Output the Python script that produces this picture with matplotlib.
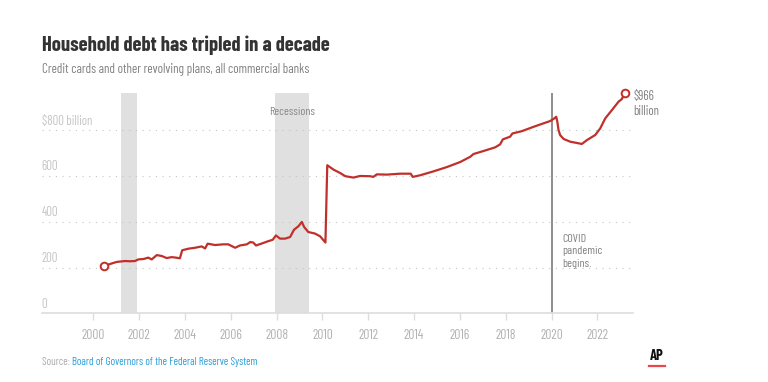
import matplotlib.pyplot as plt
from matplotlib import font_manager

# credit card / revolving debt, all commercial banks, billions of dollars
years = [
    2000.47, 2000.73, 2001.02, 2001.20, 2001.38, 2001.60, 2001.82, 2001.96,
    2002.20, 2002.40, 2002.55, 2002.77, 2002.99, 2003.20, 2003.42, 2003.60,
    2003.78, 2003.88, 2004.15, 2004.44, 2004.73, 2004.88, 2004.99, 2005.31,
    2005.67, 2005.89, 2006.05, 2006.19, 2006.40, 2006.70, 2006.85, 2006.98,
    2007.10, 2007.42, 2007.64, 2007.83, 2007.97, 2008.15, 2008.37, 2008.59,
    2008.76, 2008.95, 2009.10, 2009.20, 2009.38, 2009.68, 2009.90, 2010.13,
    2010.21, 2010.48, 2010.77, 2011.00, 2011.35, 2011.64, 2012.08, 2012.22,
    2012.37, 2012.81, 2013.39, 2013.85, 2013.94, 2014.26, 2014.84, 2015.43,
    2016.01, 2016.45, 2016.59, 2017.02, 2017.53, 2017.75, 2017.87, 2018.19,
    2018.29, 2018.70, 2019.21, 2019.64, 2019.93, 2020.12, 2020.20, 2020.25,
    2020.30, 2020.37, 2020.52, 2020.81, 2021.32, 2021.54, 2021.90, 2022.12,
    2022.34, 2022.63, 2022.92, 2023.06, 2023.21,
]
debt = [
    207, 216, 225, 227, 229, 228, 229, 236,
    238, 244, 236, 255, 251, 242, 246, 244,
    241, 276, 283, 287, 293, 284, 305, 299,
    302, 302, 294, 287, 297, 302, 312, 310,
    297, 308, 316, 322, 341, 327, 327, 334,
    366, 381, 400, 378, 356, 349, 337, 310,
    648, 629, 614, 600, 594, 601, 600, 597,
    608, 607, 611, 611, 597, 604, 621, 640,
    662, 685, 697, 710, 726, 739, 761, 773,
    787, 797, 816, 831, 841, 853, 860, 838,
    802, 780, 763, 751, 741, 758, 780, 809,
    853, 889, 926, 937, 966,
]
recessions = [(2001.21, 2001.89), (2007.94, 2009.40)]
covid_year = 2020.0
y_ticks = [0, 200, 400, 600, 800]
y_labels = ["0", "200", "400", "600", "$800 billion"]
x_ticks = list(range(2000, 2023, 2))

RED = "#c0302b"

# pick a condensed face close to the AP house style
names = {f.name for f in font_manager.fontManager.ttflist}
FONT = "DejaVu Sans"
for cand in ["Barlow Condensed", "Roboto Condensed", "Asap Condensed"]:
    if cand in names:
        FONT = cand
        break
plt.rcParams["font.family"] = [FONT, "DejaVu Sans"]

fig = plt.figure(figsize=(7.68, 3.82), dpi=100)
ax = fig.add_axes((0.0543, 0.1796, 0.7699, 0.5782))
ax.set_xlim(1997.75, 2023.55)
ax.set_ylim(0, 966)

for start, end in recessions:
    ax.axvspan(start, end, color="#e0e0e0", lw=0, zorder=0)

for v in y_ticks[1:]:
    ax.plot([1997.75, 2023.4], [v, v], ls=(0, (1, 5)), color="#c4c4c4",
            lw=0.8, zorder=1)
for v, lab in zip(y_ticks, y_labels):
    ax.annotate(lab, (0, v), xycoords=("axes fraction", "data"),
                xytext=(0, 2), textcoords="offset points",
                ha="left", va="bottom", fontsize=9.2, color="#c4c4c4")

ax.axvline(covid_year, color="#707070", lw=1.1, zorder=2)

ax.plot(years, debt, color=RED, lw=1.6, zorder=3)
ax.plot(years[0], debt[0], "o", ms=5.5, mfc="white", mec=RED, mew=1.4,
        zorder=4, clip_on=False)
ax.plot(years[-1], debt[-1], "o", ms=5.5, mfc="white", mec=RED, mew=1.4,
        zorder=4, clip_on=False)

ax.text(2008.67, 879, "Recessions", ha="center", va="center",
        fontsize=8.6, color="#888888")
ax.text(2020.48, 348, "COVID\npandemic\nbegins.", ha="left", va="top",
        fontsize=8.6, color="#808080", linespacing=1.3)
ax.text(2023.57, 975, "$966\nbillion", ha="left", va="top",
        fontsize=9.2, color="#808080", linespacing=1.2)

for side in ("left", "right", "top"):
    ax.spines[side].set_visible(False)
ax.spines["bottom"].set_color("#dddddd")
ax.spines["bottom"].set_linewidth(1.2)
ax.set_yticks([])
ax.set_xticks(x_ticks)
ax.set_xticklabels([str(x) for x in x_ticks])
ax.tick_params(axis="x", length=5, width=1, color="#dddddd",
               labelcolor="#b0b0b0", labelsize=9.6, pad=6)

fig.text(0.0543, 0.882, "Household debt has tripled in a decade",
         fontsize=14.8, fontweight="bold", color="#333333", va="center")
fig.text(0.0543, 0.817, "Credit cards and other revolving plans, all commercial banks",
         fontsize=9.4, color="#808080", va="center")

src = fig.text(0.0543, 0.052, "Source: ", fontsize=7.9, color="#aaaaaa",
               va="center")
fig.canvas.draw()
bb = src.get_window_extent()
fig.text(bb.x1 / fig.bbox.width, 0.052,
         "Board of Governors of the Federal Reserve System",
         fontsize=7.9, color="#2a9fd8", va="center")

fig.text(0.855, 0.068, "AP", fontsize=10.5, fontweight="bold", color="#111111",
         ha="center", va="center")
fig.add_artist(plt.Line2D([0.845, 0.866], [0.042, 0.042], color="#e8474f",
                          lw=1.6, transform=fig.transFigure))

fig.savefig("out.png", dpi=100)
